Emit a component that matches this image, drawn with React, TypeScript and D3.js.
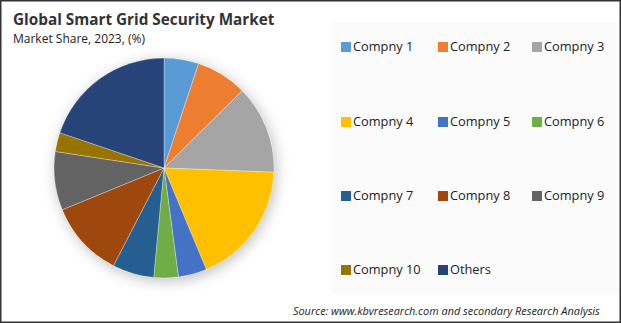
import React from "react";
import { pie, arc, scaleOrdinal } from "d3";

// chart data
const companies = [
  "Compny 1", "Compny 2", "Compny 3", "Compny 4", "Compny 5", "Compny 6",
  "Compny 7", "Compny 8", "Compny 9", "Compny 10", "Others",
];
const shares = [5.1, 7.5, 13.0, 18.1, 4.2, 3.6, 6.1, 11.2, 8.6, 2.8, 19.8];
const palette = [
  "#5B9BD5", "#ED7D31", "#A5A5A5", "#FFC000", "#4472C4", "#70AD47",
  "#255E91", "#9E480E", "#636363", "#997300", "#264478",
];

const width = 621;
const height = 323;
const cx = 164;
const cy = 168;
const radius = 110;

const App = () => {
  const color = scaleOrdinal<string, string>().domain(companies).range(palette);
  const slices = pie<number>().sort(null).value((d) => d)(shares);
  const sliceArc = arc<any>().innerRadius(0).outerRadius(radius);

  // legend grid: 3 columns
  const colX = [341, 438, 532];
  const rowY = [47, 122, 196, 270];

  return (
    <svg width={width} height={height} style={{ position: "absolute", left: 0, top: 0 }}
      fontFamily="'Open Sans', 'Liberation Sans', sans-serif">
      <defs>
        <filter id="pieShadow" x="-30%" y="-30%" width="160%" height="160%">
          <feDropShadow dx="2" dy="3" stdDeviation="7" floodColor="#000" floodOpacity="0.25" />
        </filter>
      </defs>
      <rect x={0} y={0} width={width} height={height} fill="#fff" />
      <rect x={332} y={22} width={287} height={272} fill="#fbfbfb" />

      <text x={13} y={25} fontSize={15.3} fontWeight="bold" fill="#333">
        Global Smart Grid Security Market
      </text>
      <text x={13} y={43} fontSize={12} fill="#222">Market Share, 2023, (%)</text>

      <g transform={`translate(${cx}, ${cy})`}>
        <circle r={radius} fill="#fff" filter="url(#pieShadow)" />
        {slices.map((d, i) => (
          <path key={i} d={sliceArc(d) as string} fill={color(companies[i])}
            stroke="#fff" strokeOpacity={0.5} strokeWidth={0.6} />
        ))}
      </g>

      {companies.map((c, i) => {
        const x = colX[i % 3];
        const y = rowY[Math.floor(i / 3)];
        return (
          <g key={c} transform={`translate(${x}, ${y})`}>
            <rect x={0} y={-5} width={10} height={10} fill={color(c)} />
            <text x={12} y={0} dy="0.35em" fontSize={12.8} fill="#222">{c}</text>
          </g>
        );
      })}

      <text x={293} y={315} fontSize={10.9} fontStyle="italic" fill="#222">
        Source: www.kbvresearch.com and secondary Research Analysis
      </text>

      <rect x={0.75} y={0.75} width={width - 1.5} height={height - 1.5} fill="none"
        stroke="#333" strokeWidth={1.5} />
    </svg>
  );
};

export default App;
